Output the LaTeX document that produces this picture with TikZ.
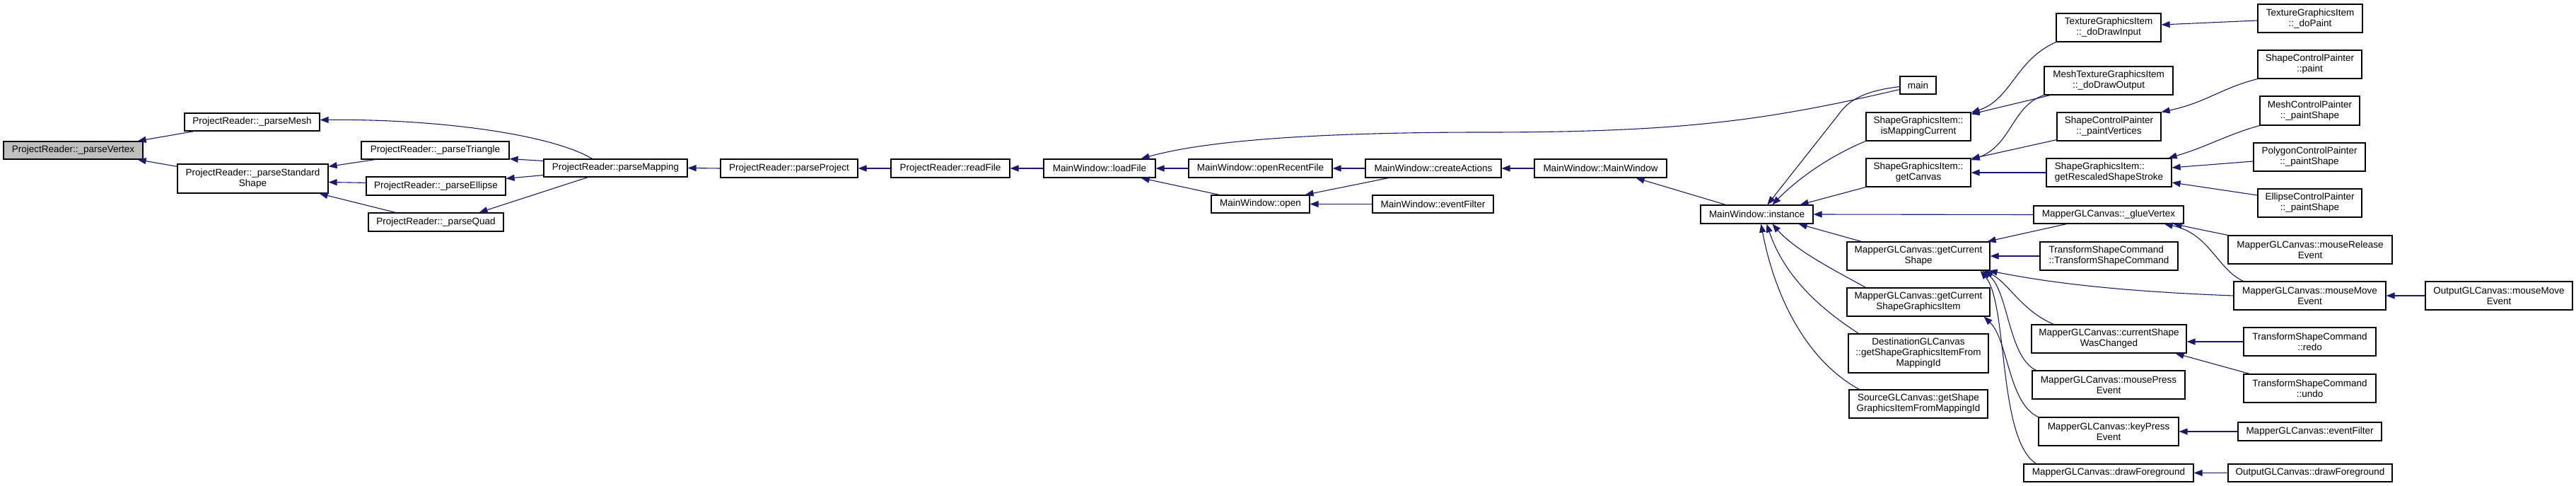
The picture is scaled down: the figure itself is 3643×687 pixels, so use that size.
\documentclass[tikz,border=0pt]{standalone}
\usepackage{fontspec}
\setmainfont{Liberation Sans}
\usetikzlibrary{arrows.meta}
\definecolor{mblue}{HTML}{191970}
\definecolor{nodegray}{HTML}{BFBFBF}
\tikzset{
  box/.style={draw=black, line width=1.2pt, inner sep=0pt, align=center, fill=white,
    font=\fontsize{13.5}{15}\selectfont},
  focus/.style={fill=nodegray},
  arr/.style={draw=mblue, line width=1.1pt, -{Triangle[length=12pt,width=9pt]}, fill=none},
}
\newcommand\mynode[7]{\node[box,minimum width={(#3-#2)*1pt},minimum height={(#5-#4)*1pt},#6] (#1) at ({(#2+#3)/2},{(#4+#5)/2}) {#7};}
\begin{document}
\begin{tikzpicture}[x=1pt,y=-1pt]
\fill[white] (0,0) rectangle (3643,687);
\useasboundingbox (0,0) rectangle (3643,687);
% nodes
\mynode{pv}{5}{202}{200}{225}{focus}{ProjectReader::\_parseVertex}
\mynode{pmesh}{261}{452}{160}{185}{}{ProjectReader::\_parseMesh}
\mynode{pstd}{251}{464}{232}{273}{}{ProjectReader::\_parseStandard\\Shape}
\mynode{ptri}{511}{720}{200}{225}{}{ProjectReader::\_parseTriangle}
\mynode{pell}{518}{715}{250}{276}{}{ProjectReader::\_parseEllipse}
\mynode{pquad}{521}{712}{301}{327}{}{ProjectReader::\_parseQuad}
\mynode{pmap}{769}{972}{225}{250}{}{ProjectReader::parseMapping}
\mynode{pproj}{1019}{1213}{225}{251}{}{ProjectReader::parseProject}
\mynode{rfile}{1260}{1428}{225}{251}{}{ProjectReader::readFile}
\mynode{lfile}{1476}{1634}{225}{251}{}{MainWindow::loadFile}
\mynode{orf}{1681}{1884}{225}{251}{}{MainWindow::openRecentFile}
\mynode{open}{1713}{1852}{276}{301}{}{MainWindow::open}
\mynode{cact}{1931}{2123}{225}{251}{}{MainWindow::createActions}
\mynode{evf}{1941}{2112}{276}{301}{}{MainWindow::eventFilter}
\mynode{mwmw}{2170}{2357}{225}{251}{}{MainWindow::MainWindow}
\mynode{inst}{2405}{2564}{290}{316}{}{MainWindow::instance}
\mynode{main}{2687}{2738}{108}{133}{}{main}
\mynode{smc}{2639}{2787}{159}{199}{}{ShapeGraphicsItem::\\isMappingCurrent}
\mynode{sgc}{2639}{2787}{224}{264}{}{ShapeGraphicsItem::\\getCanvas}
\mynode{gcs}{2612}{2814}{342}{382}{}{MapperGLCanvas::getCurrent\\Shape}
\mynode{gcsgi}{2612}{2814}{407}{447}{}{MapperGLCanvas::getCurrent\\ShapeGraphicsItem}
\mynode{dest}{2614}{2812}{472}{527}{}{DestinationGLCanvas\hskip0pt plus1filll\null\\::getShapeGraphicsItemFrom\\MappingId}
\mynode{src}{2615}{2811}{551}{591}{}{SourceGLCanvas::getShape\\GraphicsItemFromMappingId}
\mynode{tdi}{2908}{3056}{19}{59}{}{TextureGraphicsItem\\::\_doDrawInput}
\mynode{mdo}{2891}{3073}{94}{134}{}{MeshTextureGraphicsItem\\::\_doDrawOutput}
\mynode{pvert}{2909}{3056}{159}{199}{}{ShapeControlPainter\\::\_paintVertices}
\mynode{grs}{2894}{3071}{224}{264}{align=left}{ShapeGraphicsItem::\\getRescaledShapeStroke}
\mynode{glue}{2876}{3088}{291}{316}{}{MapperGLCanvas::\_glueVertex}
\mynode{tsc}{2885}{3080}{342}{382}{align=left}{TransformShapeCommand\\::TransformShapeCommand}
\mynode{csw}{2873}{3092}{459}{499}{}{MapperGLCanvas::currentShape\\WasChanged}
\mynode{mpe}{2874}{3090}{524}{564}{}{MapperGLCanvas::mousePress\\Event}
\mynode{kpe}{2883}{3081}{590}{630}{}{MapperGLCanvas::keyPress\\Event}
\mynode{dfg}{2862}{3102}{656}{681}{}{MapperGLCanvas::drawForeground}
\mynode{tdp}{3193}{3341}{6}{46}{}{TextureGraphicsItem\\::\_doPaint}
\mynode{scpp}{3193}{3340}{71}{111}{}{ShapeControlPainter\\::paint}
\mynode{mcp}{3196}{3337}{136}{177}{}{MeshControlPainter\\::\_paintShape}
\mynode{pcp}{3187}{3345}{202}{242}{}{PolygonControlPainter\\::\_paintShape}
\mynode{ecp}{3193}{3340}{267}{307}{}{EllipseControlPainter\\::\_paintShape}
\mynode{mre}{3151}{3383}{333}{373}{}{MapperGLCanvas::mouseRelease\\Event}
\mynode{mme}{3159}{3374}{398}{438}{}{MapperGLCanvas::mouseMove\\Event}
\mynode{redo}{3173}{3360}{463}{503}{}{TransformShapeCommand\\::redo}
\mynode{undo}{3173}{3360}{529}{569}{}{TransformShapeCommand\\::undo}
\mynode{mef}{3165}{3368}{597}{623}{}{MapperGLCanvas::eventFilter}
\mynode{odf}{3151}{3383}{656}{681}{}{OutputGLCanvas::drawForeground}
\mynode{omme}{3430}{3638}{398}{438}{}{OutputGLCanvas::mouseMove\\Event}
% edges
\draw[arr] ([xshift=14pt]pmesh.south west) -- ([xshift=-8pt]pv.north east);
\draw[arr] ([yshift=-4pt]pstd.north west) -- ([xshift=-8pt]pv.south east);
\draw[arr] ([xshift=20pt]ptri.south west) -- ([yshift=-4pt]pstd.north east);
\draw[arr] ([yshift=-9pt]pell.north west) -- ([yshift=-5pt]pstd.east);
\draw[arr] ([xshift=39pt]pquad.north west) -- ([xshift=-13pt]pstd.south east);
\draw[arr] ([xshift=69pt]pmap.north west) .. controls (780,190) and (620,168) .. ([yshift=3pt]pmesh.east);
\draw[arr] ([yshift=-3pt]pmap.north west) -- ([yshift=1pt]ptri.south east);
\draw[arr] ([yshift=3pt]pmap.south west) -- ([yshift=-3pt]pell.north east);
\draw[arr] ([xshift=63pt]pmap.south west) -- ([xshift=-35pt]pquad.north east);
\draw[arr] (pproj.west) -- (pmap.east);
\draw[arr] (rfile.west) -- (pproj.east);
\draw[arr] (lfile.west) -- (rfile.east);
\draw[arr] (orf.west) -- (lfile.east);
\draw[arr] ([xshift=12pt]open.north west) -- ([xshift=-21pt]lfile.south east);
\draw[arr] ([yshift=-6pt]main.west) .. controls (2500,170) and (2380,187) .. (2100,187) .. controls (1850,187) and (1700,200) .. ([xshift=-21pt]lfile.north east);
\draw[arr] (cact.west) -- (orf.east);
\draw[arr] ([xshift=33pt]cact.south west) -- ([xshift=-7pt]open.north east);
\draw[arr] (evf.west) -- (open.east);
\draw[arr] (mwmw.west) -- (cact.east);
\draw[arr] ([xshift=36pt]inst.north west) -- ([xshift=-44pt]mwmw.south east);
\draw[arr] ([yshift=-2pt]main.west) .. controls (2640,128) and (2615,140) .. (2600,162) -- ([xshift=95pt]inst.north west);
\draw[arr] (smc.south west) .. controls (2600,215) and (2550,245) .. ([xshift=102pt]inst.north west);
\draw[arr] (sgc.south west) -- ([xshift=-19pt]inst.north east);
\draw[arr] (glue.west) -- (inst.east);
\draw[arr] ([xshift=21pt]gcs.north west) -- ([xshift=-21pt]inst.south east);
\draw[arr] ([xshift=27pt]gcsgi.north west) .. controls (2600,385) and (2540,355) .. ([xshift=102pt]inst.south west);
\draw[arr] ([xshift=15pt]dest.north west) .. controls (2580,440) and (2525,395) .. ([xshift=94pt]inst.south west);
\draw[arr] ([xshift=15pt]src.north west) .. controls (2555,510) and (2510,420) .. ([xshift=86pt]inst.south west);
\draw[arr] (tdi.south west) .. controls (2850,85) and (2845,140) .. ([yshift=-1pt]smc.north east);
\draw[arr] ([xshift=9pt]mdo.south west) -- ([yshift=-3pt]smc.north east);
\draw[arr] (mdo.south west) .. controls (2845,150) and (2845,205) .. ([yshift=-3pt]sgc.north east);
\draw[arr] ([yshift=2pt]pvert.south west) -- ([yshift=-1pt]sgc.north east);
\draw[arr] (grs.west) -- (sgc.east);
\draw[arr] ([yshift=-3pt]tdp.west) -- ([yshift=4pt]tdi.east);
\draw[arr] (scpp.south west) .. controls (3140,125) and (3120,145) .. (pvert.north east);
\draw[arr] (mcp.south west) .. controls (3150,190) and (3120,208) .. ([xshift=-5pt]grs.north east);
\draw[arr] ([yshift=-6pt]pcp.west) -- ([yshift=7pt]grs.east);
\draw[arr] ([yshift=11pt]ecp.west) -- ([yshift=-14pt]grs.east);
\draw[arr] (mre.north west) -- ([xshift=-15pt]glue.south east);
\draw[arr] ([xshift=14pt]mme.north west) .. controls (3135,380) and (3125,330) .. ([xshift=-28pt]glue.south east);
\draw[arr] ([xshift=47pt]glue.south west) -- ([xshift=-4pt]gcs.north east);
\draw[arr] (tsc.west) -- (gcs.east);
\draw[arr] (mme.west) .. controls (3000,412) and (2900,400) .. ([xshift=-2pt]gcs.south east);
\draw[arr] ([xshift=32pt]csw.north west) .. controls (2860,440) and (2840,400) .. ([xshift=-8pt]gcs.south east);
\draw[arr] ([xshift=6pt]mpe.north west) .. controls (2840,505) and (2840,410) .. ([xshift=-11pt]gcs.south east);
\draw[arr] ([xshift=18pt]dfg.north west) .. controls (2825,620) and (2840,430) .. ([xshift=-14pt]gcs.south east);
\draw[arr] (kpe.north west) .. controls (2840,570) and (2840,480) .. ([xshift=-9pt]gcsgi.south east);
\draw[arr] (omme.west) -- (mme.east);
\draw[arr] (redo.west) -- ([yshift=-4pt]csw.east);
\draw[arr] ([xshift=9pt]undo.north west) -- ([xshift=-16pt]csw.south east);
\draw[arr] (mef.west) -- (kpe.east);
\draw[arr] (odf.west) -- (dfg.east);
\end{tikzpicture}
\end{document}
